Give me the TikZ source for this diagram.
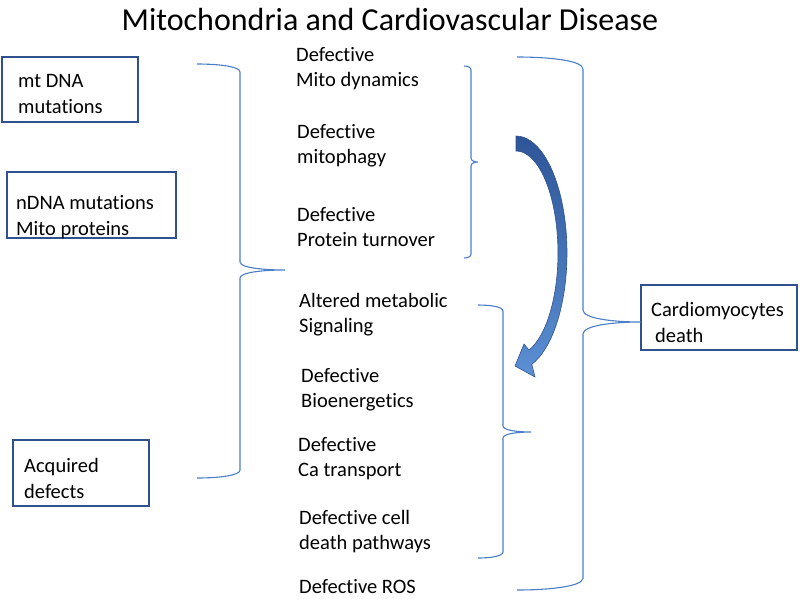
\documentclass[tikz,border=0pt]{standalone}
\usepackage{fontspec}
\setmainfont[Ligatures=NoCommon]{Carlito}

\definecolor{boxblue}{HTML}{2F528F}
\definecolor{bracketblue}{HTML}{4A7EC7}
\definecolor{arrowtop}{HTML}{2E5597}
\definecolor{arrowbottom}{HTML}{5B90D4}

\tikzset{
  box/.style={draw=boxblue, line width=2pt, inner sep=0pt},
  txt/.style={anchor=base west, align=left, inner sep=0pt, font=\fontsize{20.5}{25.5}\selectfont},
  bracket/.style={draw=bracketblue, line width=1.1pt},
  arrowshape/.style={top color=arrowtop, bottom color=arrowbottom, draw=boxblue, line width=0.6pt}
}

% end x, spine x, tip x, top y, tip y, bottom y, bend
\newcommand{\curlybrace}[7]{%
  \draw[bracket] (#1,#4) .. controls ({(#1+#2)/2},#4) and (#2,{#4+0.3*#7}) .. (#2,{#4+#7})
    -- (#2,{#5-#7}) .. controls (#2,{#5-0.3*#7}) and ({(#2+#3)/2},#5) .. (#3,#5)
    .. controls ({(#2+#3)/2},#5) and (#2,{#5+0.3*#7}) .. (#2,{#5+#7})
    -- (#2,{#6-#7}) .. controls (#2,{#6-0.3*#7}) and ({(#1+#2)/2},#6) .. (#1,#6);}

\begin{document}
\begin{tikzpicture}[x=1pt, y=-1pt]
  \useasboundingbox (0,0) rectangle (800,598);

  \node[anchor=base, font=\fontsize{32}{38}\selectfont] (title) at (390,30) {Mitochondria and Cardiovascular Disease};

  % boxes on the left and right
  \node[box, minimum width=136, minimum height=65] (mtdna) at (70,89.5) {};
  \node[box, minimum width=169, minimum height=66] (ndna) at (91.5,205) {};
  \node[box, minimum width=136, minimum height=66] (acquired) at (81,473) {};
  \node[box, minimum width=156, minimum height=65] (cardio) at (719,317.5) {};

  % (base = last line)
  \node[txt] (mtdnatxt) at (18,113) {mt DNA\\mutations};
  \node[txt] (ndnatxt) at (16,235) {nDNA mutations\\Mito proteins};
  \node[txt] (acquiredtxt) at (24,498) {Acquired\\defects};
  \node[txt] (cardiotxt) at (651,342) {Cardiomyocytes\\\hspace*{4pt}death};

  % middle column
  \node[txt] (dynamics) at (296,86.5) {Defective\\Mito dynamics};
  \node[txt] (mitophagy) at (297,163.5) {Defective\\mitophagy};
  \node[txt] (turnover) at (297,246.5) {Defective\\Protein turnover};
  \node[txt] (signaling) at (299,332.5) {Altered metabolic\\Signaling};
  \node[txt] (bioenergetics) at (301,407.5) {Defective\\Bioenergetics};
  \node[txt] (catransport) at (298,476.5) {Defective\\Ca transport};
  \node[txt] (celldeath) at (299,549.5) {Defective cell\\death pathways};
  \node[txt] (ros) at (299,593) {Defective ROS};

  % brackets
  \curlybrace{197}{240}{285}{64}{270}{478}{8}
  \curlybrace{464}{471}{478}{66}{162}{258}{4}
  \curlybrace{478}{503}{531}{305}{432}{558}{6}
  \curlybrace{517}{583}{641}{57}{322}{590}{12}

  % curved arrow
  \shadedraw[arrowshape] plot[domain=-90:72, samples=40] ({516+51*cos(\x)},{253+117*sin(\x)})
    -- (535,377) -- (515,366) -- (524,344)
    -- plot[domain=72:-90, samples=40] ({516+42*cos(\x)},{253+102*sin(\x)}) -- cycle;
\end{tikzpicture}
\end{document}
